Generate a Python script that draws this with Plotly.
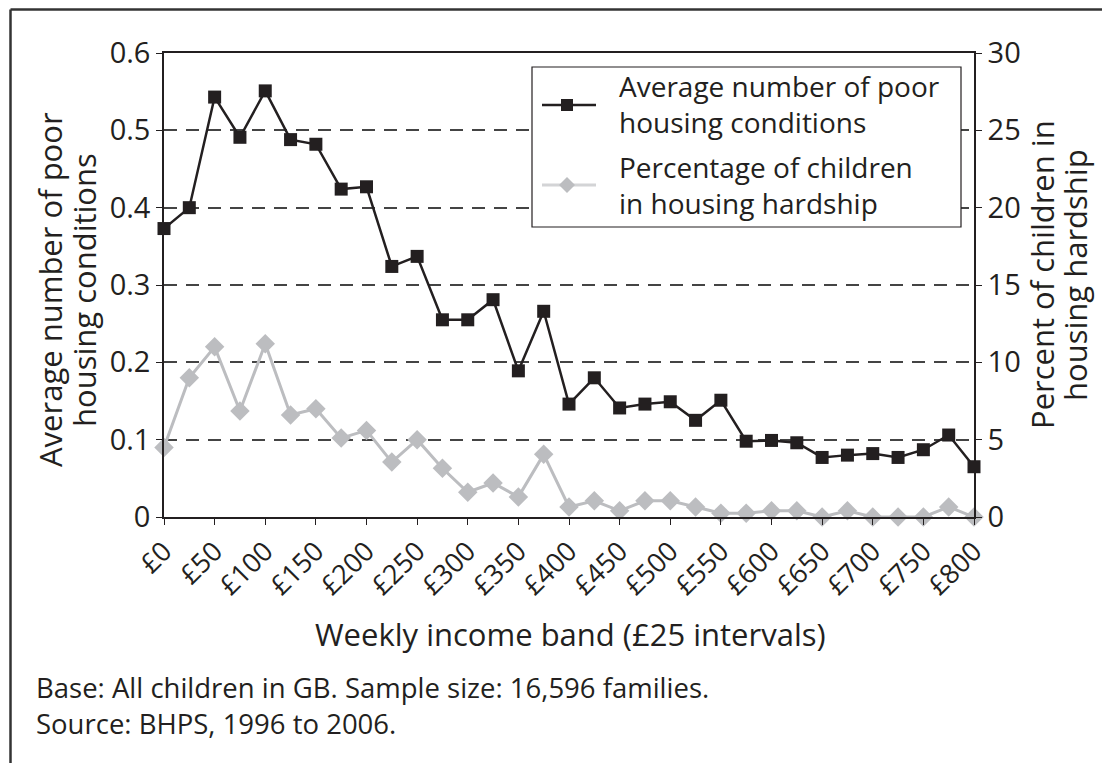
import plotly.graph_objects as go

# Weekly income bands (£25 steps)
income_bands = ["£0", "£25", "£50", "£75", "£100", "£125", "£150", "£175", "£200",
                "£225", "£250", "£275", "£300", "£325", "£350", "£375", "£400",
                "£425", "£450", "£475", "£500", "£525", "£550", "£575", "£600",
                "£625", "£650", "£675", "£700", "£725", "£750", "£775", "£800"]

# Labelled ticks every £50
tick_labels = ["£0", "£50", "£100", "£150", "£200", "£250", "£300", "£350", "£400",
               "£450", "£500", "£550", "£600", "£650", "£700", "£750", "£800"]

# Average number of poor housing conditions (left axis)
avg_poor_conditions = [0.373, 0.400, 0.543, 0.491, 0.551, 0.488, 0.482, 0.424, 0.427,
                       0.324, 0.337, 0.255, 0.255, 0.281, 0.189, 0.266, 0.146, 0.180,
                       0.141, 0.146, 0.149, 0.125, 0.151, 0.098, 0.099, 0.096, 0.077,
                       0.080, 0.082, 0.077, 0.087, 0.106, 0.065]

# Percentage of children in housing hardship (right axis)
pct_hardship = [4.5, 9.0, 11.0, 6.85, 11.2, 6.6, 7.0, 5.1, 5.6, 3.55, 5.0, 3.15, 1.6,
                2.2, 1.3, 4.05, 0.65, 1.05, 0.4, 1.05, 1.05, 0.65, 0.25, 0.25, 0.4,
                0.4, 0.0, 0.4, 0.0, 0.0, 0.0, 0.65, 0.0]

series_names = ["Average number of poor<br>housing conditions",
                "Percentage of children<br>in housing hardship"]

INK = "#231F20"
GREY = "#BCBDC0"
FONT = "Open Sans"

W, H = 1102, 763
L, R, T, B = 164, 128, 53, 246
PW, PH = W - L - R, H - T - B


def px_x(x):
    return (x - L) / PW


def px_y(y):
    return (H - B - y) / PH


def text(s, x, y, size, xanchor="left", angle=0):
    return dict(text=s, xref="paper", yref="paper", x=px_x(x), y=px_y(y),
                xanchor=xanchor, yanchor="middle", textangle=angle, align="left",
                showarrow=False, font=dict(family=FONT, size=size, color=INK))


fig = go.Figure()

fig.add_trace(go.Scatter(
    x=income_bands, y=pct_hardship, yaxis="y2",
    name=series_names[1], showlegend=False,
    mode="lines+markers",
    line=dict(color=GREY, width=3),
    marker=dict(symbol="diamond", size=15, color=GREY),
    cliponaxis=False,
))

fig.add_trace(go.Scatter(
    x=income_bands, y=avg_poor_conditions, yaxis="y",
    name=series_names[0], showlegend=False,
    mode="lines+markers",
    line=dict(color=INK, width=2.5),
    marker=dict(symbol="square", size=13, color=INK),
    cliponaxis=False,
))

# Legend key drawn as shapes + text
lx0, lx1, ly0, ly1 = 532, 961, 67, 227
key_x0, key_x1, key_mid = 542, 596, 567
row_black, row_grey = 105, 185
diamond = "M{},{} L{},{} L{},{} L{},{} Z".format(
    px_x(key_mid), px_y(row_grey - 8), px_x(key_mid + 8), px_y(row_grey),
    px_x(key_mid), px_y(row_grey + 8), px_x(key_mid - 8), px_y(row_grey))

shapes = [
    # outer frame: top and left edges
    dict(type="line", xref="paper", yref="paper",
         x0=px_x(10.5), x1=px_x(W), y0=px_y(9.5), y1=px_y(9.5),
         line=dict(color="#333333", width=2.5)),
    dict(type="line", xref="paper", yref="paper",
         x0=px_x(10.5), x1=px_x(10.5), y0=px_y(9.5), y1=px_y(H),
         line=dict(color="#333333", width=2.5)),
    # legend box
    dict(type="rect", xref="paper", yref="paper",
         x0=px_x(lx0), x1=px_x(lx1), y0=px_y(ly0), y1=px_y(ly1),
         line=dict(color=INK, width=1.2), fillcolor="white"),
    dict(type="line", xref="paper", yref="paper",
         x0=px_x(key_x0), x1=px_x(key_x1), y0=px_y(row_black), y1=px_y(row_black),
         line=dict(color=INK, width=2.5)),
    dict(type="rect", xref="paper", yref="paper",
         x0=px_x(key_mid - 6), x1=px_x(key_mid + 6),
         y0=px_y(row_black - 6), y1=px_y(row_black + 6),
         line=dict(width=0), fillcolor=INK),
    dict(type="line", xref="paper", yref="paper",
         x0=px_x(key_x0), x1=px_x(key_x1), y0=px_y(row_grey), y1=px_y(row_grey),
         line=dict(color="#D3D4D6", width=3)),
    dict(type="path", xref="paper", yref="paper", path=diamond,
         line=dict(width=0), fillcolor=GREY),
]

annotations = [
    text(series_names[0], 617, row_black - 1, 28),
    text(series_names[1], 617, row_grey, 28),
    text("Weekly income band (£25 intervals)", 570, 634, 31, xanchor="center"),
    text("Average number of poor", 50, 290, 31, xanchor="center", angle=-90),
    text("housing conditions", 84, 290, 31, xanchor="center", angle=-90),
    text("Percent of children in", 1042, 275, 31, xanchor="center", angle=-90),
    text("housing hardship", 1075, 275, 31, xanchor="center", angle=-90),
    text("Base: All children in GB. Sample size: 16,596 families.<br>"
         "Source: BHPS, 1996 to 2006.", 34, 705, 27.5),
]

fig.update_layout(
    width=W, height=H,
    margin=dict(l=L, r=R, t=T, b=B),
    paper_bgcolor="white", plot_bgcolor="white",
    font=dict(family=FONT, size=28, color=INK),
    showlegend=False,
    xaxis=dict(
        type="category", range=[0, len(income_bands) - 1],
        tickmode="array", tickvals=tick_labels, ticktext=tick_labels,
        tickangle=-45, ticks="outside", ticklen=6, tickcolor=INK,
        showline=True, linecolor=INK, linewidth=1.5, mirror=True,
        showgrid=False, zeroline=False,
        tickfont=dict(size=27),
    ),
    yaxis=dict(
        range=[0, 0.6], tickvals=[0, 0.1, 0.2, 0.3, 0.4, 0.5, 0.6],
        ticktext=["0", "0.1", "0.2", "0.3", "0.4", "0.5", "0.6"],
        ticks="outside", ticklen=6, tickcolor=INK,
        showline=True, linecolor=INK, linewidth=1.5,
        showgrid=True, gridcolor="#444444", gridwidth=1.5, griddash="13px,9px",
        zeroline=False, tickfont=dict(size=29),
    ),
    yaxis2=dict(
        range=[0, 30], tickvals=[0, 5, 10, 15, 20, 25, 30],
        overlaying="y", side="right",
        ticks="outside", ticklen=6, tickcolor=INK,
        showline=True, linecolor=INK, linewidth=1.5,
        showgrid=False, zeroline=False, tickfont=dict(size=29),
    ),
    annotations=annotations,
    shapes=shapes,
)

fig.write_html("out.html")
